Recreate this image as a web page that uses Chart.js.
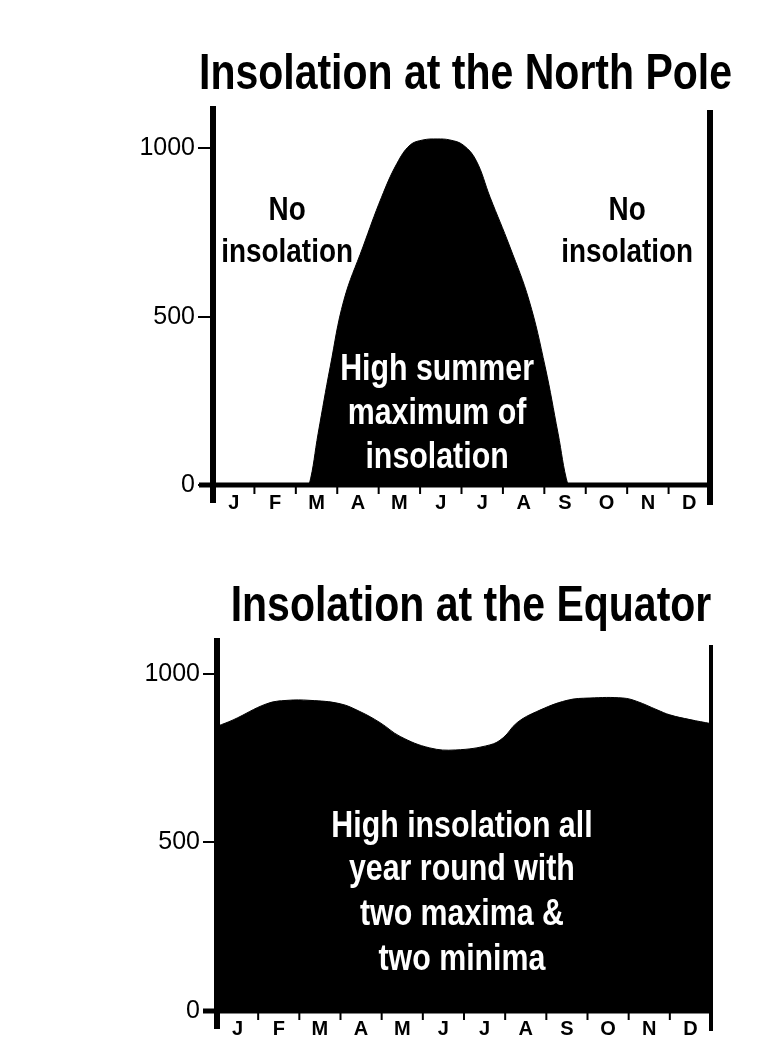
<!DOCTYPE html>
<html>
<head>
<meta charset="utf-8">
<title>Insolation at the North Pole and at the Equator</title>
<script src="https://cdn.jsdelivr.net/npm/chart.js@4.4.1/dist/chart.umd.min.js"></script>
<style>
  html, body { margin: 0; padding: 0; background: #fff; }
  body { width: 764px; height: 1058px; position: relative; overflow: hidden; }
  canvas { position: absolute; left: 0; }
  #pole { top: 0; }
  #equator { top: 530px; }
</style>
</head>
<body>
<canvas id="pole" width="764" height="530"></canvas>
<canvas id="equator" width="764" height="528"></canvas>
<script>
/* ─── Data ────────────────────────────────────────────── */
const MONTHS = ['J', 'F', 'M', 'A', 'M', 'J', 'J', 'A', 'S', 'O', 'N', 'D'];
const Y_TICKS = [0, 500, 1000];

// months elapsed since 1 Jan -> insolation
const POLE_MONTH = [0, 2.22, 2.32, 2.54, 2.83, 3.16, 3.62, 4.07, 4.44, 4.76, 5.07, 5.41, 5.72, 6.04, 6.35, 6.69, 7.17, 7.63, 8.02, 8.33, 8.57, 8.67, 12];
const POLE_VALUE = [0, 0, 0, 154, 351, 549, 707, 855, 955, 1010, 1025, 1028, 1025, 1010, 965, 855, 707, 549, 351, 154, 0, 0, 0];

const EQ_MONTH = [0, 0.39, 1.21, 1.70, 2.26, 2.99, 3.47, 3.96, 4.45, 5.17, 5.80, 6.63, 6.95, 7.29, 7.77, 8.50, 9.06, 9.86, 10.20, 10.69, 11.00, 11.49, 12];
const EQ_VALUE = [844, 863, 911, 921, 921, 911, 888, 855, 814, 780, 774, 789, 810, 855, 888, 921, 928, 928, 918, 893, 878, 864, 852];

/* ─── Fonts ───────────────────────────────────────────── */
// no narrow face installed: squeeze Liberation Sans Bold horizontally
const PLAIN = "'Liberation Sans', Arial, sans-serif";
const SQUEEZE = 0.82;
Chart.defaults.color = '#000';
Chart.defaults.font.family = PLAIN;

function drawNarrow(ctx, text, x, y, size, color) {
  ctx.save();
  ctx.translate(x, y);
  ctx.scale(SQUEEZE, 1);
  ctx.fillStyle = color;
  ctx.font = 'bold ' + size + 'px ' + PLAIN;
  ctx.textAlign = 'center';
  ctx.textBaseline = 'middle';
  ctx.fillText(text, 0, 0);
  ctx.restore();
}

/* ─── Axes frame, title and notes ─────────────────────── */
function framePlugin(o) {
  return {
    id: 'frame',
    afterDatasetsDraw(chart) {
      const { ctx, chartArea: a, scales: { x, y } } = chart;
      const y0 = y.getPixelForValue(0);
      ctx.save();
      ctx.fillStyle = '#000';
      // zero line, left and right axes
      ctx.fillRect(a.left - 14, y0 - 2.5, a.right - a.left + 14, 5);
      ctx.fillRect(a.left - 3, a.top - 2, 6, y0 - a.top + 20);
      ctx.fillRect(a.right - o.rightW / 2, a.top + o.rightTop, o.rightW, y0 - a.top - o.rightTop + 20);
      // month boundary marks
      for (let i = 1; i < MONTHS.length; i++) {
        const px = x.getPixelForValue(i);
        ctx.fillRect(px - 1, y0 + 2, 2, 7);
      }
      ctx.restore();
      drawNarrow(ctx, o.title, (a.left + a.right) / 2 + o.titleDx, o.titleY, 50, '#000');
      o.notes.forEach(n => {
        drawNarrow(ctx, n.text, x.getPixelForValue(n.x), y.getPixelForValue(n.y), n.size, n.color);
      });
    }
  };
}

function makeChart(id, months, values, o) {
  return new Chart(document.getElementById(id), {
    type: 'line',
    data: {
      datasets: [{
        data: months.map((m, i) => ({ x: m, y: values[i] })),
        fill: 'origin',
        backgroundColor: '#000',
        borderColor: '#000',
        borderWidth: 1,
        pointRadius: 0,
        tension: 0.4
      }]
    },
    options: {
      responsive: false, animation: false, events: [],
      layout: { padding: { top: o.top, right: 764 - o.right, left: 0, bottom: 0 } },
      plugins: { legend: { display: false }, tooltip: { enabled: false } },
      scales: {
        x: {
          type: 'linear', min: 0, max: 12,
          border: { display: false },
          grid: { display: false, drawTicks: false },
          afterBuildTicks: s => { s.ticks = MONTHS.map((m, i) => ({ value: i + 0.5 })); },
          afterFit: s => { s.height = o.xAxisH; },
          ticks: {
            autoSkip: false, maxRotation: 0, padding: 6,
            font: { size: 20, weight: 'bold' },
            callback: v => MONTHS[Math.floor(v)]
          }
        },
        y: {
          min: 0, max: o.yMax,
          border: { display: false },
          grid: { drawOnChartArea: false, color: '#000', lineWidth: 2, tickLength: o.tickLen },
          afterBuildTicks: s => { s.ticks = Y_TICKS.map(v => ({ value: v })); },
          afterFit: s => { s.width = o.left; },
          ticks: { padding: 3, font: { size: 25 }, callback: v => v }
        }
      }
    },
    plugins: [framePlugin(o)]
  });
}

/* ─── North Pole ──────────────────────────────────────── */
makeChart('pole', POLE_MONTH, POLE_VALUE, {
  top: 108, left: 213, right: 710, xAxisH: 45, yMax: 1120, tickLen: 15,
  rightW: 6, rightTop: 2,
  title: 'Insolation at the North Pole', titleY: 75, titleDx: 4,
  notes: [
    { text: 'No', x: 1.79, y: 816, color: '#000', size: 34 },
    { text: 'insolation', x: 1.79, y: 691, color: '#000', size: 34 },
    { text: 'No', x: 10.0, y: 816, color: '#000', size: 34 },
    { text: 'insolation', x: 10.0, y: 691, color: '#000', size: 34 },
    { text: 'High summer', x: 5.41, y: 341, color: '#fff', size: 37 },
    { text: 'maximum of', x: 5.41, y: 211, color: '#fff', size: 37 },
    { text: 'insolation', x: 5.41, y: 80, color: '#fff', size: 37 }
  ]
});

/* ─── Equator ─────────────────────────────────────────── */
makeChart('equator', EQ_MONTH, EQ_VALUE, {
  top: 110, left: 217, right: 711, xAxisH: 47, yMax: 1100, tickLen: 14,
  rightW: 4, rightTop: 5,
  title: 'Insolation at the Equator', titleY: 77, titleDx: 7,
  notes: [
    { text: 'High insolation all', x: 5.95, y: 546, color: '#fff', size: 37 },
    { text: 'year round with', x: 5.95, y: 418, color: '#fff', size: 37 },
    { text: 'two maxima &', x: 5.95, y: 285, color: '#fff', size: 37 },
    { text: 'two minima', x: 5.95, y: 151, color: '#fff', size: 37 }
  ]
});
</script>
</body>
</html>
